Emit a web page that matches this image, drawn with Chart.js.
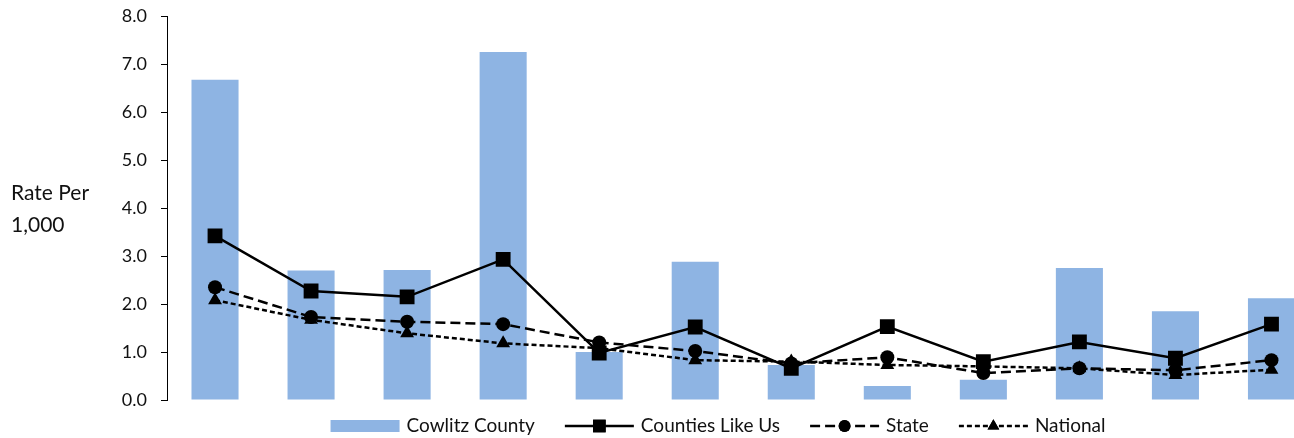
<!DOCTYPE html>
<html lang="en">
<head>
  <meta charset="UTF-8" />
  <title>Rate Per 1,000</title>
  <script src="https://cdn.jsdelivr.net/npm/chart.js"></script>
  <style>
    html, body { margin: 0; padding: 0; background: #fff; overflow: hidden; }
  </style>
</head>
<body>
  <canvas id="grafica" width="1330" height="438"></canvas>

  <script>
    // 12 categories, no labels shown on the axis
    const categorias = ['1', '2', '3', '4', '5', '6', '7', '8', '9', '10', '11', '12'];
    const cowlitz   = [6.67, 2.70, 2.71, 7.25, 1.00, 2.88, 0.73, 0.29, 0.42, 2.75, 1.85, 2.12];
    const counties  = [3.42, 2.27, 2.15, 2.93, 0.98, 1.52, 0.66, 1.53, 0.80, 1.21, 0.87, 1.58];
    const state     = [2.35, 1.73, 1.63, 1.58, 1.20, 1.02, 0.76, 0.89, 0.56, 0.66, 0.62, 0.83];
    const national  = [2.08, 1.67, 1.39, 1.18, 1.08, 0.83, 0.80, 0.73, 0.70, 0.66, 0.52, 0.63];
    const yTicks    = [0, 1, 2, 3, 4, 5, 6, 7, 8];

    const FUENTE = 'Lato, Carlito, "Liberation Sans", sans-serif';
    Chart.defaults.font.family = FUENTE;
    Chart.defaults.font.size = 18;
    Chart.defaults.color = '#111';

    // y axis title, horizontal, left of tick labels
    const tituloY = {
      id: 'tituloY',
      afterDraw(chart) {
        const ctx = chart.ctx;
        ctx.save();
        ctx.fillStyle = '#111';
        ctx.font = '21px ' + FUENTE;
        ctx.textAlign = 'left';
        ctx.textBaseline = 'alphabetic';
        ctx.fillText('Rate Per', 11, 200);
        ctx.fillText('1,000', 11, 232);
        ctx.restore();
      }
    };

    // legend with line + marker symbols, like the original
    const leyenda = {
      id: 'leyenda',
      afterDraw(chart) {
        const ctx = chart.ctx;
        const y = 426;
        const simbolo = 69, hueco = 7, separa = 30;
        ctx.save();
        ctx.font = '19px ' + FUENTE;
        const sets = chart.data.datasets;
        let total = 0;
        sets.forEach((ds, i) => {
          total += simbolo + hueco + ctx.measureText(ds.label).width;
          if (i < sets.length - 1) total += separa;
        });
        let x = 718 - total / 2;
        sets.forEach(ds => {
          if (ds.type === 'bar') {
            ctx.fillStyle = ds.backgroundColor;
            ctx.fillRect(x, y - 6, simbolo, 12);
          } else {
            ctx.strokeStyle = ds.borderColor;
            ctx.lineWidth = ds.borderWidth;
            ctx.setLineDash(ds.borderDash || []);
            ctx.beginPath();
            ctx.moveTo(x, y);
            ctx.lineTo(x + simbolo, y);
            ctx.stroke();
            ctx.setLineDash([]);
            Chart.helpers.drawPoint(ctx, {
              pointStyle: ds.pointStyle,
              radius: ds.pointRadius * 0.85,
              rotation: 0,
              borderWidth: 0
            }, x + simbolo / 2, y);
            ctx.fillStyle = ds.pointBackgroundColor;
            ctx.fill();
          }
          x += simbolo + hueco;
          ctx.fillStyle = '#111';
          ctx.textAlign = 'left';
          ctx.textBaseline = 'middle';
          ctx.fillText(ds.label, x, y);
          x += ctx.measureText(ds.label).width + separa;
        });
        ctx.restore();
      }
    };

    const lineaBase = {
      type: 'line',
      borderColor: '#000',
      backgroundColor: '#000',
      pointBackgroundColor: '#000',
      pointBorderWidth: 0,
      borderWidth: 2.5,
      tension: 0,
      fill: false
    };

    new Chart(document.getElementById('grafica'), {
      data: {
        labels: categorias,
        datasets: [
          {
            type: 'bar',
            label: 'Cowlitz County',
            data: cowlitz,
            backgroundColor: '#8EB4E3',
            barPercentage: 0.49,
            categoryPercentage: 1,
            order: 4
          },
          Object.assign({}, lineaBase, {
            label: 'Counties Like Us',
            data: counties,
            pointStyle: 'rect',
            pointRadius: 10.5,
            order: 1
          }),
          Object.assign({}, lineaBase, {
            label: 'State',
            data: state,
            borderDash: [10, 5],
            pointStyle: 'circle',
            pointRadius: 7,
            order: 2
          }),
          Object.assign({}, lineaBase, {
            label: 'National',
            data: national,
            borderDash: [5, 3],
            pointStyle: 'triangle',
            pointRadius: 8,
            order: 3
          })
        ]
      },
      options: {
        responsive: false,
        animation: false,
        layout: { padding: { top: 16, bottom: 38, left: 0, right: 0 } },
        plugins: {
          legend: { display: false },
          tooltip: { enabled: false }
        },
        scales: {
          x: {
            display: false,
            offset: true,
            ticks: { display: false },
            afterFit(scale) { scale.paddingLeft = 0; scale.paddingRight = 0; }
          },
          y: {
            min: 0,
            max: 8,
            afterFit(scale) {
              scale.width = 167;
              scale.paddingTop = 0;
              scale.paddingBottom = 0;
            },
            afterBuildTicks(scale) { scale.ticks = yTicks.map(v => ({ value: v })); },
            grid: {
              drawOnChartArea: false,
              tickLength: 6,
              color: '#000'
            },
            border: { color: '#000', width: 1 },
            ticks: {
              padding: 14,
              color: '#111',
              callback: v => v.toFixed(1)
            }
          }
        }
      },
      plugins: [tituloY, leyenda]
    });
  </script>
</body>
</html>
